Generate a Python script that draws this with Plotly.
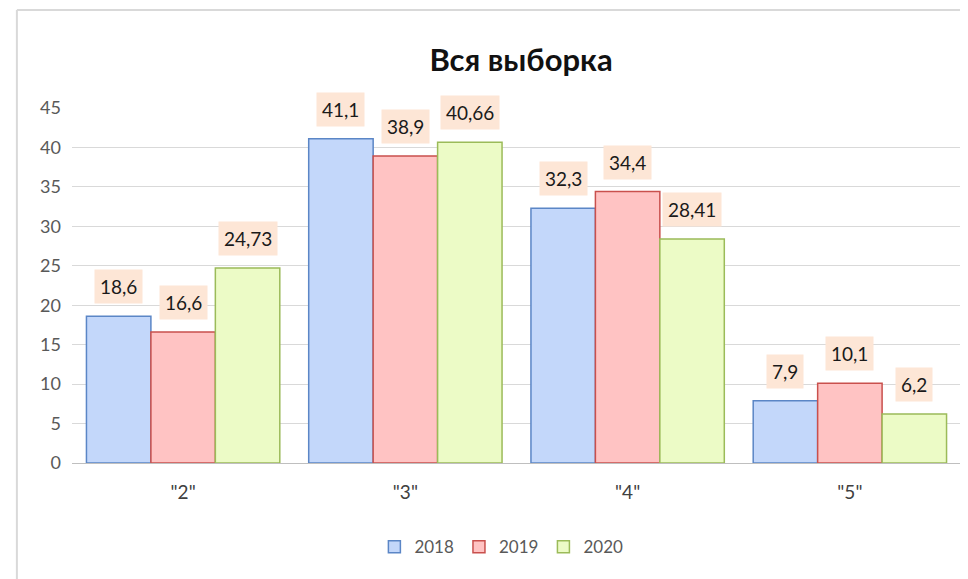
import plotly.graph_objects as go

categories = ['"2"', '"3"', '"4"', '"5"']
years = ['2018', '2019', '2020']
values_2018 = [18.6, 41.1, 32.3, 7.9]
values_2019 = [16.6, 38.9, 34.4, 10.1]
values_2020 = [24.73, 40.66, 28.41, 6.2]

series = [values_2018, values_2019, values_2020]
fills = ['#c3d7fa', '#ffc3c3', '#ecfbc6']
lines = ['#5b86c6', '#c9504d', '#9bbb59']
FONT = 'Lato'

bargap = 0.13
bar_w = (1 - bargap) / len(years)

fig = go.Figure()
for name, vals, fc, lc in zip(years, series, fills, lines):
    fig.add_trace(go.Bar(
        name=name, x=categories, y=vals,
        marker=dict(color=fc, line=dict(color=lc, width=1.5)),
        hoverinfo='y'
    ))

# data labels in peach boxes above each bar
annotations = []
for k, vals in enumerate(series):
    offset = (k - 1) * bar_w
    for i, v in enumerate(vals):
        annotations.append(dict(
            x=i + offset, y=v, xref='x', yref='y',
            text=f'{v:g}'.replace('.', ','),
            showarrow=False, yanchor='bottom', yshift=12,
            bgcolor='#fde6d6', borderpad=5,
            font=dict(family=FONT, size=19, color='#1a1a1a')
        ))

fig.update_layout(
    width=968, height=579,
    margin=dict(l=64, r=15, t=100, b=124),
    paper_bgcolor='white', plot_bgcolor='white',
    barmode='group', bargap=bargap, bargroupgap=0,
    title=dict(text='<b>Вся выборка</b>', x=0.53, xanchor='center',
               y=0.91, yanchor='middle',
               font=dict(family=FONT, size=31, color='#111111')),
    xaxis=dict(tickfont=dict(family=FONT, size=19, color='#404040'),
               showline=True, linecolor='#bfbfbf', linewidth=1,
               ticks='', showgrid=False, ticklabelstandoff=12),
    yaxis=dict(range=[0, 45], dtick=5, tickfont=dict(family=FONT, size=18, color='#595959'),
               showgrid=True, gridcolor='#d9d9d9', gridwidth=1,
               zeroline=False, ticks='', ticklabelstandoff=10),
    legend=dict(orientation='h', x=0.483, xanchor='center', y=-0.237, yanchor='middle',
                font=dict(family=FONT, size=17, color='#595959'),
                itemwidth=30, tracegroupgap=0),
    annotations=annotations,
    shapes=[dict(type='line', xref='paper', yref='paper', x0=-0.062, x1=-0.062, y0=-0.4, y1=1.276,
                 line=dict(color='#d9d9d9', width=2)),
            dict(type='line', xref='paper', yref='paper', x0=-0.062, x1=1.1, y0=1.276, y1=1.276,
                 line=dict(color='#d9d9d9', width=2))],
)

fig.write_html("out.html")
